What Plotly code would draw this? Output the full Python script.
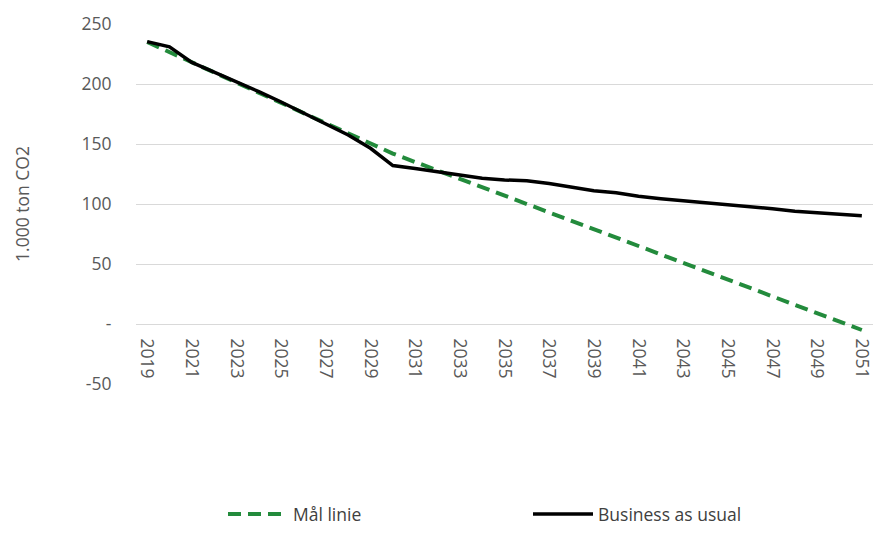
import plotly.graph_objects as go

years = [str(y) for y in range(2019, 2052)]
maal_linie = [235, 226.5, 218, 209.5, 201, 192.5, 184, 175.5, 167, 158.5, 150, 142,
              135, 128, 121, 114, 107, 100, 93, 86, 79, 72, 65, 58, 51, 44, 37,
              30, 23, 16, 9, 2, -5]
business_as_usual = [235.3, 231, 218, 210, 202, 193.6, 185, 176, 167, 157.5, 146.4,
                     132, 129.5, 127, 124, 121.4, 120, 119.4, 117, 114, 111, 109.4,
                     106.4, 104.4, 102.8, 100.8, 98.9, 97.8, 96, 94, 92.8, 91.7, 90.3]
y_tickvals = [-50, 0, 50, 100, 150, 200, 250]
y_ticktext = ["-50", "-", "50", "100", "150", "200", "250"]
x_tickvals = years[::2]

fig = go.Figure()
fig.add_trace(go.Scatter(x=years, y=maal_linie, name="Mål linie", mode="lines",
                         line=dict(color="#238B3C", width=4, dash="13px,7px")))
fig.add_trace(go.Scatter(x=years, y=business_as_usual, name="Business as usual", mode="lines",
                         line=dict(color="#000000", width=3.5)))

font = "Open Sans"
fig.update_layout(
    width=875, height=534,
    margin=dict(l=136, r=2, t=24, b=150, autoexpand=False),
    paper_bgcolor="white", plot_bgcolor="white",
    font=dict(family=font, color="#595959", size=17),
    showlegend=True,
    legend=dict(orientation="h", xref="container", yref="container",
                x=223/875, xanchor="left", y=2/534, yanchor="bottom",
                entrywidth=230, entrywidthmode="pixels", itemwidth=60,
                font=dict(size=17.5, color="#404040")),
    xaxis=dict(type="category", range=[-0.5, 32.5], tickvals=x_tickvals,
               tickangle=90, showgrid=False, showline=False, zeroline=False,
               anchor="free", position=50/300, ticks="outside", ticklen=10,
               tickcolor="rgba(0,0,0,0)", tickfont=dict(size=17.5, color="#595959")),
    yaxis=dict(range=[-50, 250], tickvals=y_tickvals, ticktext=y_ticktext,
               showgrid=True, gridcolor="#D9D9D9", gridwidth=1.2, zeroline=False,
               showline=False, ticks="outside", ticklen=20, tickcolor="rgba(0,0,0,0)",
               tickfont=dict(size=17.5, color="#595959"),
               title=dict(text="1.000 ton CO2", standoff=47, font=dict(size=17.5, color="#595959"))),
)
fig.write_html("out.html")
